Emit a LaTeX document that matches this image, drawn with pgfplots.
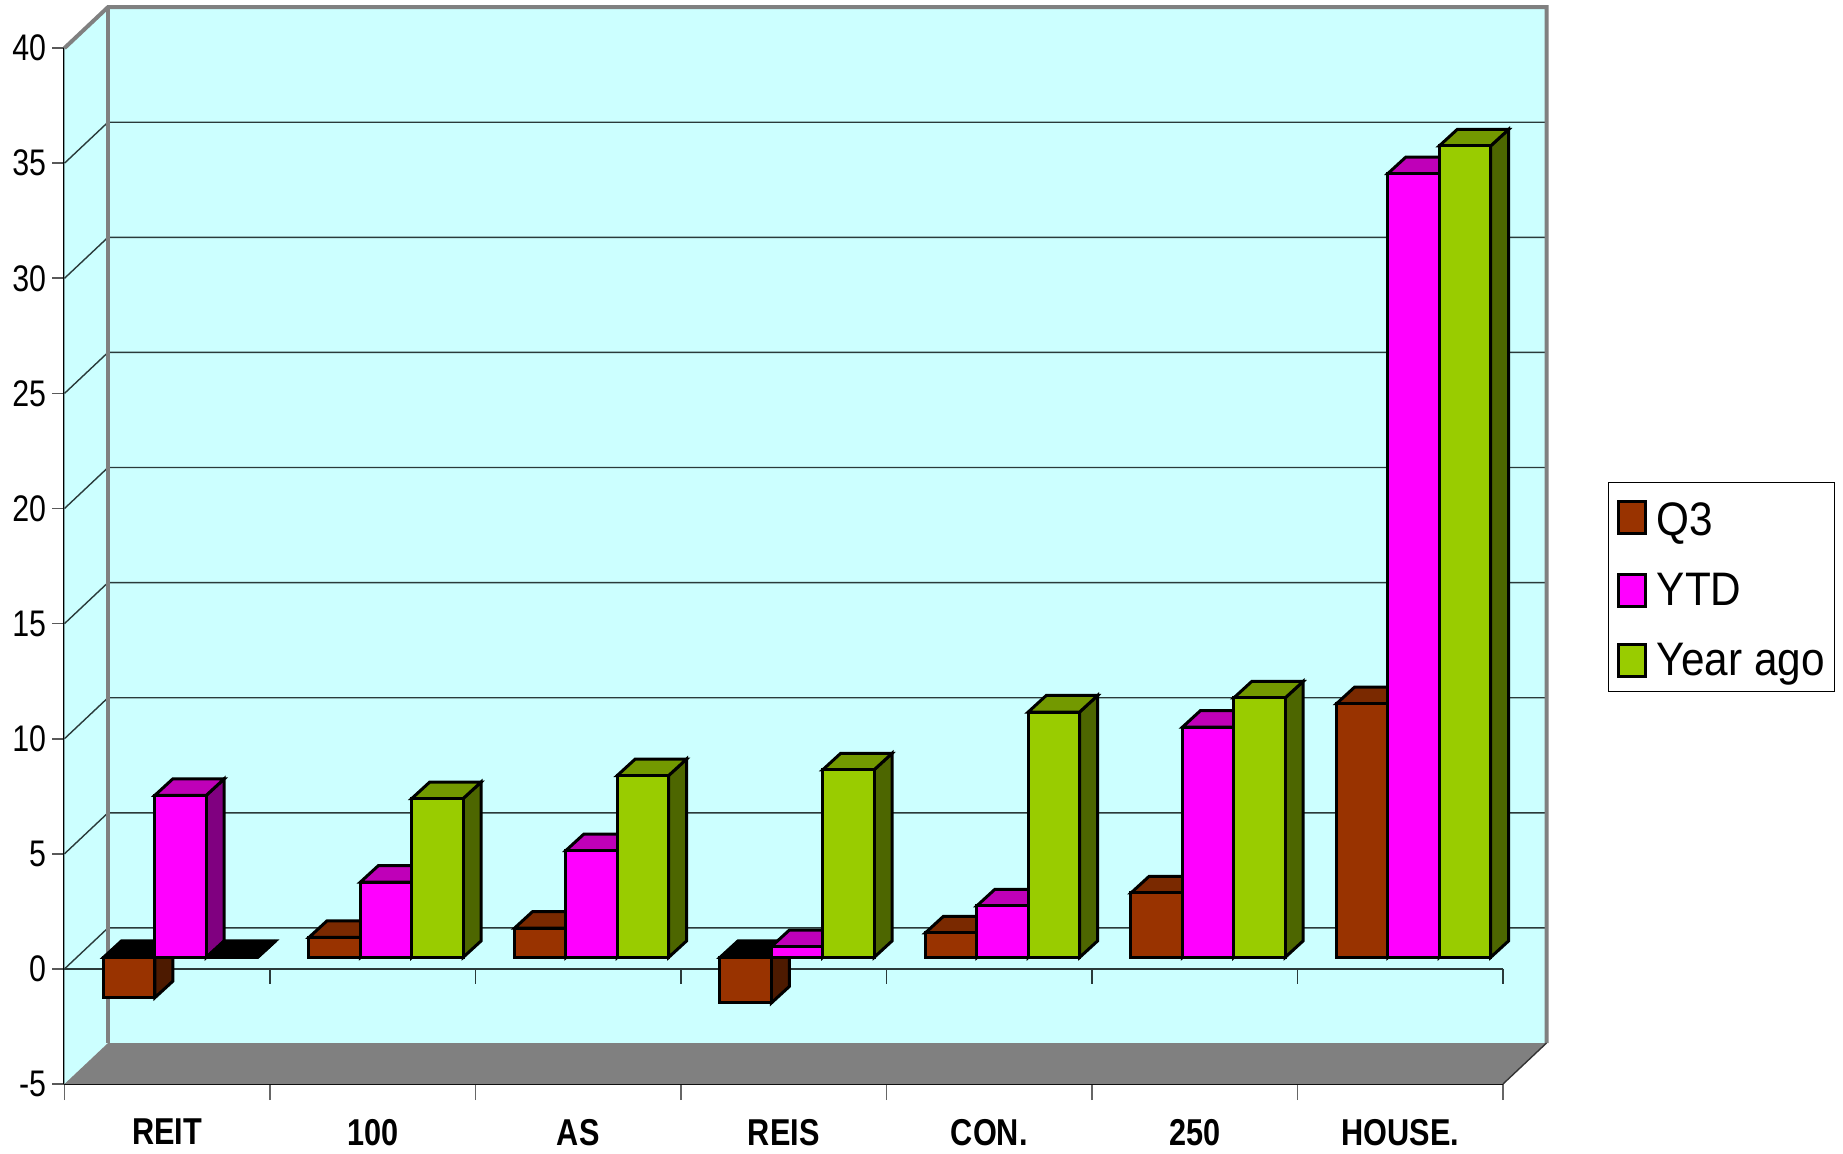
\documentclass[border=0pt]{standalone}
\usepackage{pgfplots}
\usepackage{pgfplotstable}
\usepackage{fontspec}
\pgfplotsset{compat=1.18}
\setmainfont[FakeStretch=0.82]{Liberation Sans}
\newfontfamily\legfont[FakeStretch=0.9]{Liberation Sans}
\definecolor{wall}{HTML}{CCFFFF}
\definecolor{floorc}{HTML}{808080}
\definecolor{gridc}{HTML}{2A3A3A}
\definecolor{cQ}{HTML}{993300}
\definecolor{cQt}{HTML}{7A2900}
\definecolor{cQs}{HTML}{4D1A00}
\definecolor{cY}{HTML}{FF00FF}
\definecolor{cYt}{HTML}{BF00B8}
\definecolor{cYs}{HTML}{800080}
\definecolor{cA}{HTML}{99CC00}
\definecolor{cAt}{HTML}{739900}
\definecolor{cAs}{HTML}{4D6600}
\pgfplotstableread{
cat q3 ytd ago
0 -1.75 7.04 0
1 0.87 3.27 6.90
2 1.27 4.64 7.90
3 -1.98 0.47 8.15
4 1.07 2.24 10.66
5 2.80 10.00 11.27
6 11.02 34.05 35.25
}\datatable
\tikzset{barline/.style={draw=black,line width=1.5pt,line join=miter}}
% top and side faces of one bar: slot, column, colours
\newcommand{\faces}[5]{%
  \pgfplotsforeachungrouped \r in {0,...,6}{%
    \pgfplotstablegetelem{\r}{#2}\of\datatable
    \pgfmathsetmacro{\v}{\pgfplotsretval}%
    \pgfmathsetmacro{\xa}{\r+#1*0.25-0.125}%
    \pgfmathsetmacro{\xb}{\xa+0.25}%
    \pgfmathsetmacro{\xc}{\xa+0.0876}%
    \pgfmathsetmacro{\xd}{\xb+0.0876}%
    \pgfmathsetmacro{\hi}{max(\v,0)}%
    \pgfmathsetmacro{\lo}{min(\v,0)}%
    \pgfmathsetmacro{\hb}{\hi+0.717}%
    \pgfmathsetmacro{\lb}{\lo+0.717}%
    \pgfmathparse{\v>0?1:0}%
    \ifnum\pgfmathresult=1 \def\tc{#3}\else\def\tc{black}\fi
    \edef\tmp{\noexpand\addplot[fill=#4,barline,forget plot] coordinates {(\xb,\lo)(\xd,\lb)(\xd,\hb)(\xb,\hi)} -- cycle;
      \noexpand\addplot[fill=\tc,barline,forget plot] coordinates {(\xa,\hi)(\xc,\hb)(\xd,\hb)(\xb,\hi)} -- cycle;}%
    \tmp
  }%
}
\begin{document}
\begin{tikzpicture}
\useasboundingbox (0,0) rectangle (921.5pt,576.5pt);
\begin{axis}[
  at={(32.25pt,34.5pt)},anchor=south west,
  x=102.75pt,y=11.51pt,
  xmin=0,xmax=7,ymin=-5,ymax=40,
  clip=false,
  axis x line*=bottom,axis y line*=left,
  axis line style={-,black,line width=1pt},
  ytick={-5,0,...,40},
  xtick={0.5,1.5,...,6.5},
  xticklabels={REIT,100,AS,REIS,CON.,250,HOUSE.},
  minor xtick={0,...,7},
  tick align=outside,
  major tick length=6pt,
  minor tick length=8pt,
  major x tick style={draw=none},
  minor x tick style={draw=black!60,line width=0.8pt},
  y tick style={draw=black!65,line width=0.8pt},
  /pgf/number format/assume math mode=true,
  yticklabel style={font=\fontsize{18.5}{22}\selectfont,inner sep=0pt,xshift=-3pt},
  xticklabel style={font=\fontsize{18.7}{22}\selectfont\bfseries,inner sep=0pt,yshift=-11.4pt},
]
% walls and floor
\addplot[fill=wall,draw=none,forget plot] coordinates {(0,-5)(0.2117,-3.22)(0.2117,41.78)(0,40)} -- cycle;
\addplot[fill=wall,draw=none,forget plot] coordinates {(0.2117,-3.22)(7.2117,-3.22)(7.2117,41.78)(0.2117,41.78)} -- cycle;
\addplot[fill=floorc,draw=none,forget plot] coordinates {(0,-5)(0.2117,-3.22)(7.2117,-3.22)(7,-5)} -- cycle;
% gridlines
\addplot[gridc,line width=0.7pt,forget plot] coordinates {(0,0)(0.2117,1.78)(7.2117,1.78)};
\addplot[gridc,line width=0.7pt,forget plot] coordinates {(0,5)(0.2117,6.78)(7.2117,6.78)};
\addplot[gridc,line width=0.7pt,forget plot] coordinates {(0,10)(0.2117,11.78)(7.2117,11.78)};
\addplot[gridc,line width=0.7pt,forget plot] coordinates {(0,15)(0.2117,16.78)(7.2117,16.78)};
\addplot[gridc,line width=0.7pt,forget plot] coordinates {(0,20)(0.2117,21.78)(7.2117,21.78)};
\addplot[gridc,line width=0.7pt,forget plot] coordinates {(0,25)(0.2117,26.78)(7.2117,26.78)};
\addplot[gridc,line width=0.7pt,forget plot] coordinates {(0,30)(0.2117,31.78)(7.2117,31.78)};
\addplot[gridc,line width=0.7pt,forget plot] coordinates {(0,35)(0.2117,36.78)(7.2117,36.78)};
% wall edges
\addplot[floorc,line width=2pt,line join=miter,forget plot] coordinates {(0,40)(0.2117,41.78)(7.2117,41.78)(7.2117,-3.22)};
\addplot[floorc,line width=2pt,forget plot] coordinates {(0.2117,41.78)(0.2117,-3.22)};
\addplot[black!80,line width=0.7pt,forget plot] coordinates {(7,-5)(7.2117,-3.22)};
% zero plane line and its ticks
\addplot[gridc,line width=0.9pt,forget plot] coordinates {(0,0)(7,0)};
\addplot[gridc,line width=0.9pt,forget plot] coordinates {(1,0)(1,-0.65)};
\addplot[gridc,line width=0.9pt,forget plot] coordinates {(2,0)(2,-0.65)};
\addplot[gridc,line width=0.9pt,forget plot] coordinates {(3,0)(3,-0.65)};
\addplot[gridc,line width=0.9pt,forget plot] coordinates {(4,0)(4,-0.65)};
\addplot[gridc,line width=0.9pt,forget plot] coordinates {(5,0)(5,-0.65)};
\addplot[gridc,line width=0.9pt,forget plot] coordinates {(6,0)(6,-0.65)};
\addplot[gridc,line width=0.9pt,forget plot] coordinates {(7,0)(7,-0.65)};
\end{axis}
\begin{axis}[
  at={(38.9pt,40.25pt)},anchor=south west,
  x=102.75pt,y=11.51pt,
  xmin=-0.5,xmax=6.5,ymin=-5,ymax=40,
  clip=false,hide axis,
  legend cell align=left,
  legend style={at={(1.0640,0.57)},anchor=north west,draw=black,fill=white,line width=0.5pt,
    font=\legfont\fontsize{23.5}{28}\selectfont,inner xsep=4pt,inner ysep=5.7pt,row sep=15.2pt,
    /tikz/every odd column/.append style={column sep=4pt},
    nodes={inner sep=1pt}},
  legend image code/.code={\draw[#1,line width=1.5pt] (0pt,-8pt) rectangle (13.5pt,8pt);},
]
\faces{-1}{q3}{cQt}{cQs}{}
\addplot[ybar,bar width=25.7pt,bar shift=-25.7pt,fill=cQ,barline] table[x=cat,y=q3]{\datatable};
\addlegendentry{\rule{0pt}{20pt}Q3}
\faces{0}{ytd}{cYt}{cYs}{}
\addplot[ybar,bar width=25.7pt,bar shift=0pt,fill=cY,barline] table[x=cat,y=ytd]{\datatable};
\addlegendentry{YTD}
\faces{1}{ago}{cAt}{cAs}{}
\addplot[ybar,bar width=25.7pt,bar shift=25.7pt,fill=cA,barline] table[x=cat,y=ago]{\datatable};
\addlegendentry{Year ago}
\end{axis}
\end{tikzpicture}
\end{document}
